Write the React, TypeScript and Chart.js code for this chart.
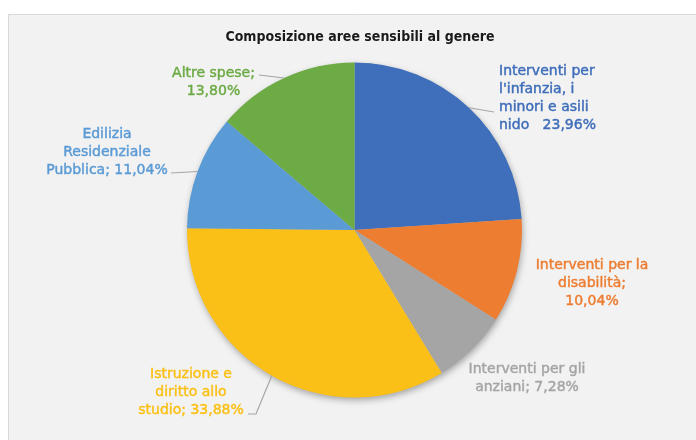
import React, { useEffect, useRef } from "react";
import { Chart, registerables } from "chart.js";

Chart.register(...registerables);

const TITLE = "Composizione aree sensibili al genere";
const categories = [
  "Interventi per l'infanzia, i minori e asili nido",
  "Interventi per la disabilità",
  "Interventi per gli anziani",
  "Istruzione e diritto allo studio",
  "Edilizia Residenziale Pubblica",
  "Altre spese",
];
const shares = [23.96, 10.04, 7.28, 33.88, 11.04, 13.8];
const labelLines = [
  ["Interventi per", "l'infanzia, i", "minori e asili", "nido   {v}"],
  ["Interventi per la", "disabilità;", "{v}"],
  ["Interventi per gli", "anziani; {v}"],
  ["Istruzione e", "diritto allo", "studio; {v}"],
  ["Edilizia", "Residenziale", "Pubblica; {v}"],
  ["Altre spese;", "{v}"],
];

const COLORS = ["#3F6EBA", "#ED7D31", "#A5A5A5", "#FBC017", "#5B9BD5", "#6DAB45"];

// label placement relative to the pie centre (layout only)
const LABEL_LAYOUT = [
  { dx: 144.5, dy: -159, align: "left", leader: [[139.5, -118]] },
  { dx: 237.5, dy: 35, align: "center", leader: [] },
  { dx: 172.5, dy: 139, align: "center", leader: [] },
  { dx: -163.5, dy: 144, align: "center", leader: [[-98.5, 184], [-106.5, 184]] },
  { dx: -247.5, dy: -96, align: "center", leader: [[-183.5, -57]] },
  { dx: -141, dy: -157, align: "center", leader: [[-95.5, -155]] },
];

const fmt = (v: number) => v.toFixed(2).replace(".", ",") + "%";

const bgPlugin = {
  id: "bgPanel",
  beforeDraw(chart: any) {
    const { ctx, width, height } = chart;
    ctx.save();
    ctx.fillStyle = "#ffffff";
    ctx.fillRect(0, 0, width, height);
    ctx.fillStyle = "#F2F2F2";
    ctx.fillRect(8, 14, width - 8, height - 14);
    ctx.strokeStyle = "#D9D9D9";
    ctx.lineWidth = 1;
    ctx.beginPath();
    ctx.moveTo(8.5, height);
    ctx.lineTo(8.5, 14.5);
    ctx.lineTo(width, 14.5);
    ctx.stroke();
    ctx.restore();
  },
  beforeDatasetsDraw(chart: any) {
    const meta = chart.getDatasetMeta(0);
    const arc = meta.data[0];
    if (!arc) return;
    const { ctx } = chart;
    ctx.save();
    ctx.shadowColor = "rgba(0,0,0,0.35)";
    ctx.shadowBlur = 7;
    ctx.shadowOffsetX = 1;
    ctx.shadowOffsetY = 3;
    ctx.fillStyle = "#bbbbbb";
    ctx.beginPath();
    ctx.arc(arc.x, arc.y, arc.outerRadius - 0.5, 0, Math.PI * 2);
    ctx.fill();
    ctx.restore();
  },
  afterDraw(chart: any) {
    const { ctx } = chart;
    const meta = chart.getDatasetMeta(0);
    ctx.save();
    // title
    ctx.fillStyle = "#1a1a1a";
    ctx.font = "bold 14px 'DejaVu Sans Condensed', 'DejaVu Sans', sans-serif";
    ctx.textAlign = "center";
    ctx.textBaseline = "middle";
    ctx.fillText(TITLE, 360, 37);

    meta.data.forEach((arc: any, i: number) => {
      const cx = arc.x;
      const cy = arc.y;
      const mid = (arc.startAngle + arc.endAngle) / 2;
      const ex = cx + Math.cos(mid) * arc.outerRadius;
      const ey = cy + Math.sin(mid) * arc.outerRadius;
      const lay = LABEL_LAYOUT[i];
      if (lay.leader.length) {
        ctx.strokeStyle = "#A6A6A6";
        ctx.lineWidth = 1.2;
        ctx.beginPath();
        ctx.moveTo(ex, ey);
        lay.leader.forEach((p: number[]) => ctx.lineTo(cx + p[0], cy + p[1]));
        ctx.stroke();
      }
      ctx.fillStyle = COLORS[i];
      ctx.strokeStyle = COLORS[i];
      ctx.lineWidth = 0.45;
      ctx.font = "14px 'DejaVu Sans', sans-serif";
      ctx.textAlign = lay.align as CanvasTextAlign;
      ctx.textBaseline = "middle";
      labelLines[i].forEach((line, k) => {
        const t = line.replace("{v}", fmt(shares[i]));
        ctx.fillText(t, cx + lay.dx, cy + lay.dy + k * 18);
        ctx.strokeText(t, cx + lay.dx, cy + lay.dy + k * 18);
      });
    });
    ctx.restore();
  },
};

export default function App() {
  const ref = useRef<HTMLCanvasElement | null>(null);
  useEffect(() => {
    if (!ref.current) return;
    const chart = new Chart(ref.current, {
      type: "pie",
      data: {
        labels: categories,
        datasets: [
          {
            data: shares,
            backgroundColor: COLORS,
            borderWidth: 0,
          },
        ],
      },
      options: {
        responsive: false,
        animation: false,
        layout: { padding: { top: 62.5, bottom: 42.5, left: 187, right: 174 } },
        plugins: {
          legend: { display: false },
          tooltip: { enabled: false },
          title: { display: false },
        },
      },
      plugins: [bgPlugin],
    });
    return () => chart.destroy();
  }, []);
  return (
    <div style={{ position: "absolute", left: 0, top: 0, width: 696, height: 440 }}>
      <canvas ref={ref} width={696} height={440} style={{ width: 696, height: 440 }} />
    </div>
  );
}
